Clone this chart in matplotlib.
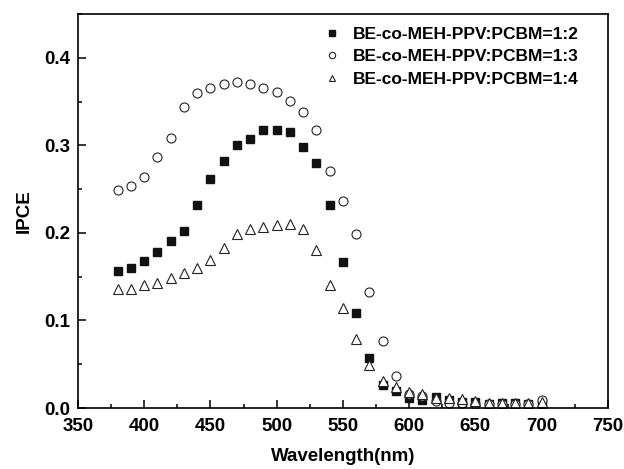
# IPCE vs wavelength for three blend ratios
import matplotlib.pyplot as plt
from matplotlib.ticker import MultipleLocator

plt.rcParams['font.family'] = ['Liberation Sans', 'DejaVu Sans']
plt.rcParams['font.weight'] = 'bold'

# Wavelength (nm)
wavelength = [380, 390, 400, 410, 420, 430, 440, 450, 460, 470, 480, 490, 500,
              510, 520, 530, 540, 550, 560, 570, 580, 590, 600, 610, 620, 630,
              640, 650, 660, 670, 680, 690, 700]

# IPCE values
ipce_12 = [0.156, 0.160, 0.168, 0.178, 0.191, 0.202, 0.232, 0.262, 0.282, 0.300,
           0.307, 0.318, 0.318, 0.315, 0.298, 0.280, 0.232, 0.167, 0.108, 0.057,
           0.026, 0.019, 0.012, 0.009, 0.013, 0.009, 0.007, 0.007, 0.005, 0.006,
           0.006, 0.005, 0.005]
ipce_13 = [0.249, 0.254, 0.264, 0.287, 0.309, 0.344, 0.360, 0.365, 0.370, 0.372,
           0.370, 0.365, 0.361, 0.351, 0.338, 0.318, 0.271, 0.236, 0.199, 0.133,
           0.076, 0.037, 0.016, 0.014, 0.008, 0.006, 0.006, 0.005, 0.005, 0.005,
           0.005, 0.005, 0.009]
ipce_14 = [0.136, 0.136, 0.140, 0.143, 0.148, 0.154, 0.160, 0.169, 0.183, 0.199,
           0.205, 0.207, 0.209, 0.210, 0.204, 0.181, 0.141, 0.114, 0.079, 0.049,
           0.031, 0.024, 0.018, 0.016, 0.012, 0.011, 0.010, 0.008, 0.006, 0.006,
           0.006, 0.006, 0.007]

labels = ["BE-co-MEH-PPV:PCBM=1:2", "BE-co-MEH-PPV:PCBM=1:3", "BE-co-MEH-PPV:PCBM=1:4"]

fig = plt.figure(figsize=(6.24, 4.69), dpi=100)
ax = fig.add_axes([0.125, 0.130, 0.849, 0.840])

ax.plot(wavelength, ipce_12, linestyle="none", marker="s", ms=5.5,
        color="#111111", label=labels[0])
ax.plot(wavelength, ipce_13, linestyle="none", marker="o", ms=6.5,
        mfc="white", mec="#222222", mew=0.8, label=labels[1])
ax.plot(wavelength, ipce_14, linestyle="none", marker="^", ms=6.5,
        mfc="white", mec="#222222", mew=0.8, label=labels[2])

ax.set_xlim(350, 750)
ax.set_ylim(0, 0.45)
ax.xaxis.set_major_locator(MultipleLocator(50))
ax.xaxis.set_minor_locator(MultipleLocator(25))
ax.yaxis.set_major_locator(MultipleLocator(0.1))
ax.yaxis.set_minor_locator(MultipleLocator(0.05))
ax.yaxis.set_major_formatter(plt.FormatStrFormatter('%.1f'))
ax.tick_params(which="both", direction="in", labelsize=13.5, width=1.1)
ax.tick_params(which="major", length=6)
ax.tick_params(which="minor", length=3)
ax.tick_params(axis="x", pad=7.5)
ax.tick_params(axis="y", pad=5.5)
for s in ax.spines.values():
    s.set_linewidth(1.2)

ax.set_xlabel("Wavelength(nm)", fontsize=13.5, fontweight="bold", labelpad=9)
ax.set_ylabel("IPCE", fontsize=13.5, fontweight="bold", labelpad=8)

leg = ax.legend(loc="upper left", bbox_to_anchor=(0.43, 1.008), frameon=False,
                fontsize=12.5, markerscale=0.7, handletextpad=0.6,
                labelspacing=0.42, handlelength=1.2)

fig.savefig("out.png", dpi=100)
